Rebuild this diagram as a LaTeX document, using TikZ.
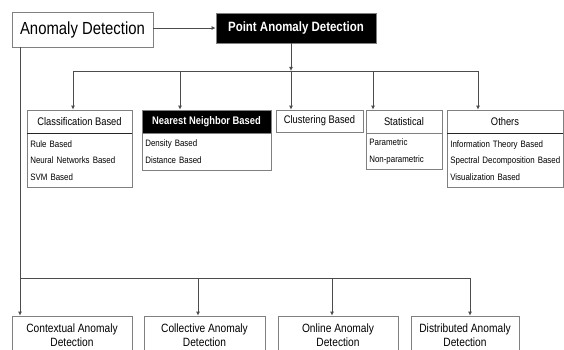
\documentclass[tikz,border=0pt]{standalone}
\usepackage{fontspec}
\setmainfont[FakeStretch=0.85]{Liberation Sans}
\usetikzlibrary{arrows.meta}
\tikzset{
    every node/.style={rectangle, draw=black!50, line width=.7pt, inner sep=0pt,
    	align=center}
}
\tikzset{
    head/.style={minimum height=23, font=\fontsize{11}{13}\selectfont},
    body/.style={anchor=north west, align=left, inner xsep=3pt,
    	font=\fontsize{9.3}{16.5}\selectfont},
    bot/.style={minimum height=38, font=\fontsize{12}{14}\selectfont},
    sep/.style={line width=1.3pt, black!85},
    link/.style={line width=.9pt, black!70},
    arr/.style={link, -{Latex[length=4pt,width=4pt]}}
}

\begin{document}
\begin{tikzpicture}[x=1pt, y=-1pt]
  \useasboundingbox (0,0) rectangle (564,350);
  \clip (0,0) rectangle (564,350);
  \node (ad) [minimum width=141, minimum height=35, font=\fontsize{17.5}{20}\selectfont] at (82.5,29.5) {Anomaly Detection};
  \node (pad) [fill=black, text=white, minimum width=160, minimum height=30, font=\bfseries\fontsize{13.5}{16}\selectfont] at (296,28) {Point Anomaly Detection};

  \node (clsH) [head, minimum width=105] at (79.5,121.5) {Classification Based};
  \node (clsB) [body, minimum width=105, minimum height=54, text width=99] at (27,133) {Rule Based\\Neural Networks Based\\SVM Based};
  \node (nnH) [head, fill=black, text=white, minimum width=129, font=\bfseries\fontsize{11}{13}\selectfont] at (206.5,121.5) {Nearest Neighbor Based};
  \node (nnB) [body, minimum width=129, minimum height=37, text width=123] at (142,133) {Density Based\\Distance Based};
  \node (cluH) [head, minimum width=87, minimum height=22] at (319.5,121) {Clustering Based};
  \node (staH) [head, minimum width=76] at (404,121.5) {Statistical};
  \node (staB) [body, minimum width=76, minimum height=36, text width=70] at (366,133) {Parametric\\Non-parametric};
  \node (othH) [head, minimum width=116] at (505,121.5) {Others};
  \node (othB) [body, minimum width=116, minimum height=54, text width=110] at (447,133) {Information Theory Based\\Spectral Decomposition Based\\Visualization Based};

  \node (ctx) [bot, minimum width=120] at (72,335) {Contextual Anomaly\\Detection};
  \node (col) [bot, minimum width=121] at (204.5,335) {Collective Anomaly\\Detection};
  \node (onl) [bot, minimum width=120] at (338,335) {Online Anomaly\\Detection};
  \node (dis) [bot, minimum width=108] at (465,335) {Distributed Anomaly\\Detection};

  \draw[sep] (clsH.south west) -- (clsH.south east);
  \draw[sep] (othH.south west) -- (othH.south east);

  \coordinate (t1) at (73,71);
  \coordinate (t2) at (180,71);
  \coordinate (t3) at (291,71);
  \coordinate (t4) at (373,71);
  \coordinate (t5) at (478,71);
  \coordinate (u1) at (20,278);
  \coordinate (u2) at (198,278);
  \coordinate (u3) at (332,278);
  \coordinate (u4) at (470,278);

  \draw[arr] (ad.east |- pad.west) -- (pad.west);
  \draw[arr] (pad.south -| t3) -- (t3);
  \draw[link] (t1) -- (t5);
  \foreach \c/\n in {t1/clsH, t2/nnH, t3/cluH, t4/staH, t5/othH}
    \draw[arr] (\c) -- (\c |- \n.north);
  \draw[link] (ad.south -| u1) -- (u1) -- (u4);
  \foreach \c/\n in {u1/ctx, u2/col, u3/onl, u4/dis}
    \draw[arr] (\c) -- (\c |- \n.north);
\end{tikzpicture}
\end{document}
